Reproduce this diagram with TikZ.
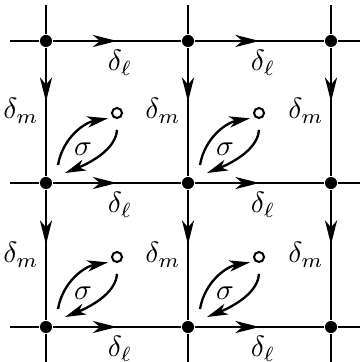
\documentclass[tikz,border=0pt]{standalone}
\usetikzlibrary{arrows.meta, decorations.markings}

\begin{document}
\begin{tikzpicture}[x=0.012cm, y=0.012cm,
    vtx/.style={circle, fill, inner sep=0pt, minimum size=1.45mm},
    hole/.style={circle, draw, line width=0.7pt, inner sep=0pt, minimum size=1.2mm},
    wire/.style={line width=0.9pt},
    hedge/.style={wire, postaction={decorate}, decoration={markings,
        mark=at position 0.5 with {\arrow{Stealth[length=2.9mm, width=1.45mm, inset=0.85mm]}}}},
    vedge/.style={wire, postaction={decorate}, decoration={markings,
        mark=at position 0.42 with {\arrow{Stealth[length=2.9mm, width=1.45mm, inset=0.85mm]}}}},
    sarc/.style={line width=0.8pt, -{Stealth[length=2.5mm, width=1.35mm, inset=0.7mm]}},
    lab/.style={inner sep=0pt}
  ]
  \useasboundingbox (0,0) rectangle (360,362);

  % lattice sites
  \foreach \c/\x in {0/46, 1/188, 2/331}
    \foreach \r/\y in {0/321, 1/179, 2/35}
      \node[vtx] (v\c\r) at (\x,\y) {};

  % free ends of the lattice lines
  \foreach \r/\y in {0/321, 1/179, 2/35} {
    \coordinate (w\r) at (10,\y);
    \coordinate (e\r) at (360,\y);
  }
  \foreach \c/\x in {0/46, 1/188, 2/331} {
    \coordinate (n\c) at (\x,357);
    \coordinate (s\c) at (\x,0);
  }

  % horizontal links
  \foreach \r/\y in {0/321, 1/179, 2/35} {
    \draw[wire]  (w\r)  -- (v0\r);
    \draw[hedge] (v0\r) -- (v1\r);
    \draw[hedge] (v1\r) -- (v2\r);
    \draw[wire]  (v2\r) -- (e\r);
    \node[lab] (dl0\r) at (120,\y-22) {$\delta_\ell$};
    \node[lab] (dl1\r) at (263,\y-22) {$\delta_\ell$};
  }

  % vertical links
  \foreach \c/\x in {0/46, 1/188, 2/331} {
    \draw[wire]  (n\c)  -- (v\c0);
    \draw[vedge] (v\c0) -- (v\c1);
    \draw[vedge] (v\c1) -- (v\c2);
    \draw[wire]  (v\c2) -- (s\c);
    \node[lab] (dm\c0) at (\x-25,251) {$\delta_m$};
    \node[lab] (dm\c1) at (\x-25,107) {$\delta_m$};
  }

  % plaquettes
  \foreach \c/\x in {0/46, 1/188}
    \foreach \r/\y in {1/179, 2/35} {
      \node[hole] (h\c\r) at (\x+71,\y+70) {};
      \node[lab] (sg\c\r) at (\x+37,\y+34) {$\sigma$};
      \coordinate (up\c\r) at (\x+12,\y+18);
      \coordinate (dn\c\r) at (\x+19,\y+10);
      \draw[sarc, shorten >=0.6mm] (up\c\r) to[out=80, in=190] (h\c\r.228);
      \draw[sarc, shorten <=1.3mm] (h\c\r.275) to[out=267, in=22] (dn\c\r);
    }
\end{tikzpicture}
\end{document}
